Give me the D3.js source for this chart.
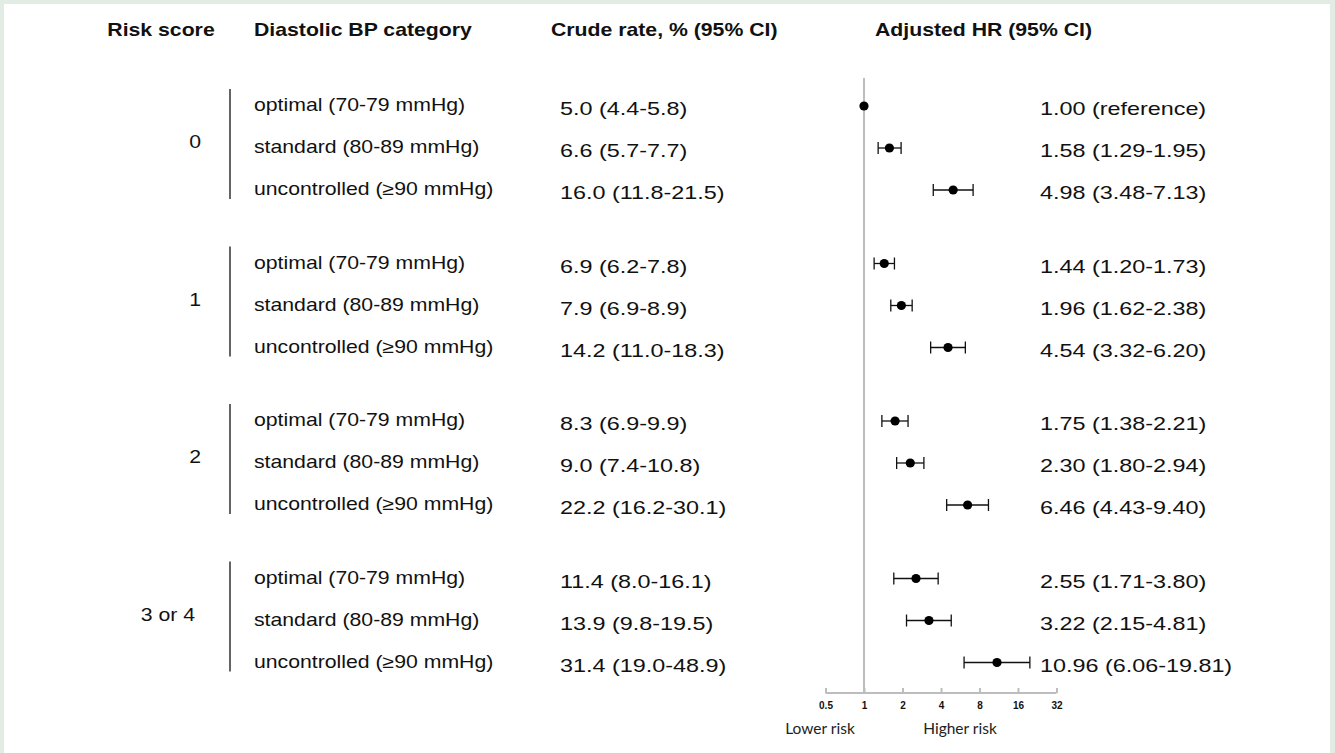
<!DOCTYPE html>
<html>
<head>
<meta charset="utf-8">
<script src="https://cdn.jsdelivr.net/npm/d3@7"></script>
<style>
  html, body { margin: 0; padding: 0; background: #fff; }
  svg { display: block; }
</style>
</head>
<body>
<script>
// data
const groups = ["0", "1", "2", "3 or 4"];
const categories = ["optimal (70-79 mmHg)", "standard (80-89 mmHg)", "uncontrolled (\u226590 mmHg)"];
const crudeRate = [5.0, 6.6, 16.0, 6.9, 7.9, 14.2, 8.3, 9.0, 22.2, 11.4, 13.9, 31.4];
const crudeLo   = [4.4, 5.7, 11.8, 6.2, 6.9, 11.0, 6.9, 7.4, 16.2, 8.0, 9.8, 19.0];
const crudeHi   = [5.8, 7.7, 21.5, 7.8, 8.9, 18.3, 9.9, 10.8, 30.1, 16.1, 19.5, 48.9];
const hr   = [1.00, 1.58, 4.98, 1.44, 1.96, 4.54, 1.75, 2.30, 6.46, 2.55, 3.22, 10.96];
const hrLo = [null, 1.29, 3.48, 1.20, 1.62, 3.32, 1.38, 1.80, 4.43, 1.71, 2.15, 6.06];
const hrHi = [null, 1.95, 7.13, 1.73, 2.38, 6.20, 2.21, 2.94, 9.40, 3.80, 4.81, 19.81];
const ticks = [0.5, 1, 2, 4, 8, 16, 32];
const headers = ["Risk score", "Diastolic BP category", "Crude rate, % (95% CI)", "Adjusted HR (95% CI)"];

const width = 1335, height = 753;
const sx = 1.18;  // the source text is a bit stretched sideways
const sxNum = 1.23; // number columns are stretched a little more

const svg = d3.select("body").append("svg")
  .attr("width", width).attr("height", height)
  .attr("font-family", "'Liberation Sans', Arial, sans-serif");

// light green frame
svg.append("rect").attr("width", width).attr("height", height).attr("fill", "#e2ece4");
svg.append("rect").attr("x", 4).attr("y", 4).attr("width", 1326).attr("height", height - 4).attr("fill", "#fff");

const rows = [];
groups.forEach((g, gi) => categories.forEach((c, ci) => rows.push({g: gi, c: ci, i: gi * 3 + ci})));

// row slots: a gap of 0.75 rows between groups
const y = d3.scaleLinear().domain([0, 1]).range([105, 147]);
const slot = d => d.g * 3.75 + d.c;

const x = d3.scaleLog().base(2).domain([0.5, 32]).range([825.5, 1056.5]);

function label(sel, px, py, anchor, s) {
  return sel.attr("transform", `translate(${px},${py}) scale(${s || sx},1)`)
    .attr("text-anchor", anchor || "start");
}

// headers
const hx = [[161, "middle"], [254, "start"], [551, "start"], [875, "start"]];
headers.forEach((h, i) => {
  svg.append("text").call(label, hx[i][0], 36, hx[i][1])
    .attr("font-size", 18).attr("font-weight", "bold").attr("fill", "#111").text(h);
});

// group labels and brackets
groups.forEach((g, gi) => {
  const y0 = y(gi * 3.75), y2 = y(gi * 3.75 + 2);
  svg.append("line").attr("x1", 230).attr("x2", 230)
    .attr("y1", y0 - 16).attr("y2", y2 + 10)
    .attr("stroke", "#111").attr("stroke-width", 1.3);
  svg.append("text").call(label, gi === 3 ? 195 : 201, (y0 + y2) / 2 + 1, "end")
    .attr("font-size", 18).attr("fill", "#111").text(g);
});

// reference line at HR = 1
svg.append("line").attr("x1", x(1)).attr("x2", x(1)).attr("y1", 78).attr("y2", 693)
  .attr("stroke", "#bdbdbd").attr("stroke-width", 2);

const fmt1 = d3.format(".1f"), fmt2 = d3.format(".2f");

const row = svg.append("g").selectAll("g").data(rows).join("g");

row.append("text").attr("font-size", 18).attr("fill", "#111")
  .each(function(d) { label(d3.select(this), 254, y(slot(d)) + 6); })
  .text(d => categories[d.c]);

row.append("text").attr("font-size", 19).attr("fill", "#111")
  .each(function(d) { label(d3.select(this), 560, y(slot(d)) + 10, "start", sxNum); })
  .text(d => `${fmt1(crudeRate[d.i])} (${fmt1(crudeLo[d.i])}-${fmt1(crudeHi[d.i])})`);

row.append("text").attr("font-size", 19).attr("fill", "#111")
  .each(function(d) { label(d3.select(this), 1040, y(slot(d)) + 10, "start", sxNum); })
  .text(d => hrLo[d.i] == null ? `${fmt2(hr[d.i])} (reference)` :
    `${fmt2(hr[d.i])} (${fmt2(hrLo[d.i])}-${fmt2(hrHi[d.i])})`);

// confidence intervals
const ci = row.filter(d => hrLo[d.i] != null);
ci.append("line")
  .attr("x1", d => x(hrLo[d.i])).attr("x2", d => x(hrHi[d.i]))
  .attr("y1", d => y(slot(d)) + 1).attr("y2", d => y(slot(d)) + 1)
  .attr("stroke", "#111").attr("stroke-width", 1.3);
["lo", "hi"].forEach(k => {
  ci.append("line")
    .attr("x1", d => x(k === "lo" ? hrLo[d.i] : hrHi[d.i]))
    .attr("x2", d => x(k === "lo" ? hrLo[d.i] : hrHi[d.i]))
    .attr("y1", d => y(slot(d)) - 5).attr("y2", d => y(slot(d)) + 7)
    .attr("stroke", "#111").attr("stroke-width", 1.3);
});
row.append("circle")
  .attr("cx", d => x(hr[d.i])).attr("cy", d => y(slot(d)) + 1).attr("r", 4.6)
  .attr("fill", "#000");

// axis
const axis = svg.append("g").attr("transform", "translate(0,693)");
axis.call(d3.axisTop(x).tickValues(ticks).tickSize(6).tickFormat(() => ""));
axis.select(".domain").attr("stroke", "#bdbdbd").attr("stroke-width", 2)
  .attr("d", `M${x(0.5)},0H${x(32)}`);
axis.selectAll(".tick line").attr("stroke", "#bdbdbd").attr("stroke-width", 2).attr("y2", 0).attr("y1", -5);
axis.selectAll(".tick").append("text")
  .attr("y", 16).attr("fill", "#111").attr("font-size", 10).attr("font-weight", "bold")
  .attr("text-anchor", "middle")
  .text(d => d);

svg.append("text").attr("x", 820).attr("y", 734).attr("text-anchor", "middle")
  .attr("font-family", "Lato, 'Open Sans', sans-serif").attr("font-size", 15.5).attr("fill", "#222")
  .text("Lower risk");
svg.append("text").attr("x", 960).attr("y", 734).attr("text-anchor", "middle")
  .attr("font-family", "Lato, 'Open Sans', sans-serif").attr("font-size", 15.5).attr("fill", "#222")
  .text("Higher risk");
</script>
</body>
</html>
